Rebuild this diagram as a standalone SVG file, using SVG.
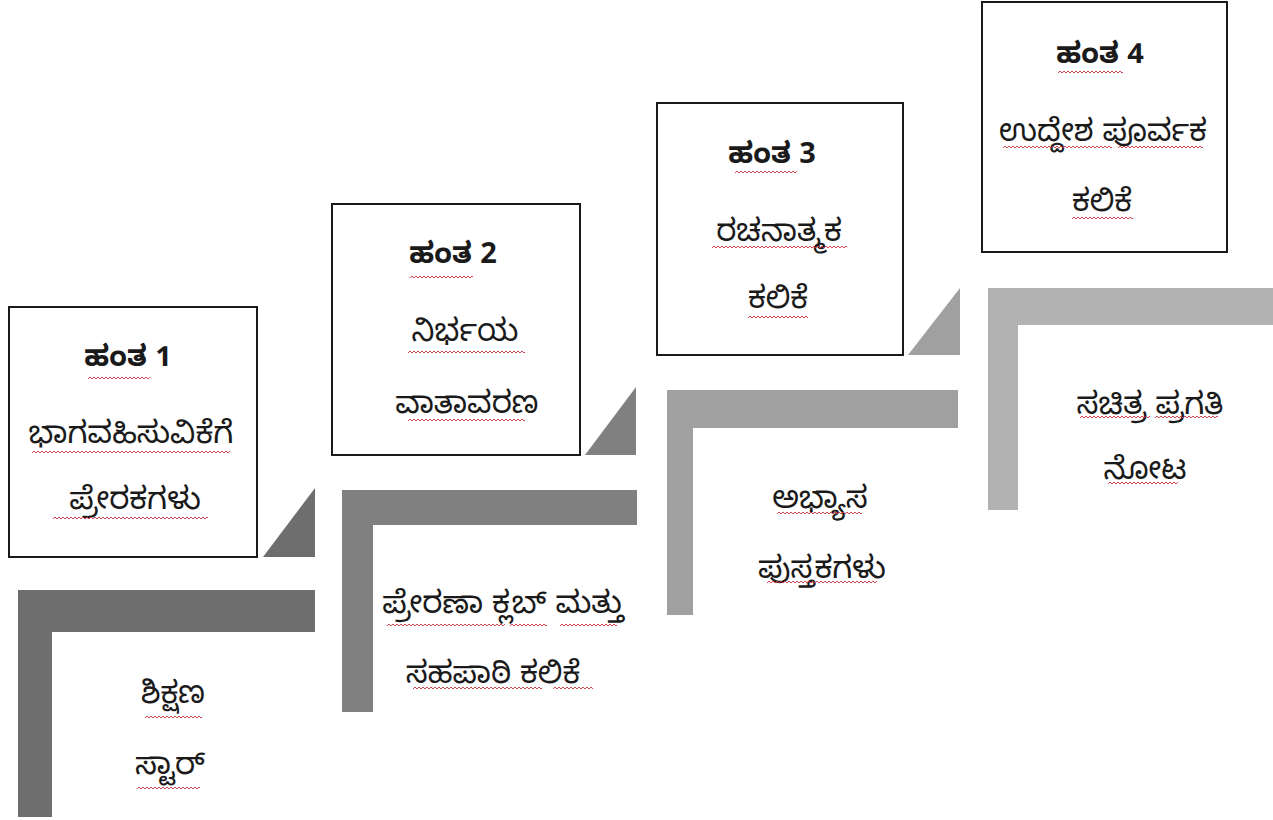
<svg xmlns="http://www.w3.org/2000/svg" width="1273" height="820" viewBox="0 0 1273 820">
<defs>
<pattern id="sq" width="4" height="4" patternUnits="userSpaceOnUse">
<path d="M0,3 L2,1 L4,3" fill="none" stroke="#c8323c" stroke-width="0.9"/>
</pattern>
<style>
.box{fill:#fff;stroke:#1a1a1a;stroke-width:2}
.t{font-family:"Noto Sans Kannada","Noto Sans","Lohit Kannada","Liberation Sans",sans-serif;font-size:31px;fill:#1a1a1a;text-anchor:middle}
.b{font-weight:bold;font-size:29px}
.sq{fill:url(#sq)}
.s1{fill:#6e6e6e}.s2{fill:#808080}.s3{fill:#a0a0a0}.s4{fill:#b2b2b2}
</style>
</defs>
<rect width="1273" height="820" fill="#fff"/>

<g id="connectors">
<polygon class="s1" points="263,557 315,488 315,557"/>
<polygon class="s2" points="585,455 636,387 636,455"/>
<polygon class="s3" points="908,355 960,288 960,355"/>
</g>

<g id="step1">
<path class="s1" d="M18,590 H315 V632 H52 V817 H18 Z"/>
<text class="t" x="173" y="703">ಶಿಕ್ಷಣ</text>
<text class="t" x="170" y="774">ಸ್ಟಾರ್</text>
<rect class="sq" transform="translate(145,715)" width="57" height="4"/>
<rect class="sq" transform="translate(137,786)" width="63" height="4"/>
</g>

<g id="step2">
<path class="s2" d="M342,490 H637 V525 H373 V712 H342 Z"/>
<text class="t" x="503" y="613">ಪ್ರೇರಣಾ ಕ್ಲಬ್ ಮತ್ತು</text>
<text class="t" x="493" y="683">ಸಹಪಾಠಿ ಕಲಿಕೆ</text>
<rect class="sq" transform="translate(387,623)" width="118" height="4"/>
<rect class="sq" transform="translate(510,623)" width="37" height="4"/>
<rect class="sq" transform="translate(560,623)" width="57" height="4"/>
<rect class="sq" transform="translate(413,686)" width="129" height="4"/>
<rect class="sq" transform="translate(553,686)" width="40" height="4"/>
</g>

<g id="step3">
<path class="s3" d="M667,390 H958 V428 H693 V615 H667 Z"/>
<text class="t" x="820" y="508">ಅಭ್ಯಾಸ</text>
<text class="t" x="822" y="578">ಪುಸ್ತಕಗಳು</text>
<rect class="sq" transform="translate(777,511)" width="85" height="4"/>
<rect class="sq" transform="translate(767,580)" width="110" height="4"/>
</g>

<g id="step4">
<path class="s4" d="M988,288 H1273 V325 H1018 V510 H988 Z"/>
<text class="t" x="1150" y="414">ಸಚಿತ್ರ ಪ್ರಗತಿ</text>
<text class="t" x="1145" y="479">ನೋಟ</text>
<rect class="sq" transform="translate(1080,415)" width="70" height="4"/>
<rect class="sq" transform="translate(1155,415)" width="63" height="4"/>
<rect class="sq" transform="translate(1108,481)" width="70" height="4"/>
</g>

<g id="stage1">
<rect class="box" x="9" y="307" width="248" height="250"/>
<text class="t b" x="128" y="366">ಹಂತ 1</text>
<text class="t" x="131" y="443">ಭಾಗವಹಿಸುವಿಕೆಗೆ</text>
<text class="t" x="135" y="509">ಪ್ರೇರಕಗಳು</text>
<rect class="sq" transform="translate(88,376)" width="62" height="4"/>
<rect class="sq" transform="translate(32,450)" width="198" height="4"/>
<rect class="sq" transform="translate(53,516)" width="155" height="4"/>
</g>

<g id="stage2">
<rect class="box" x="332" y="204" width="248" height="251"/>
<text class="t b" x="453" y="263">ಹಂತ 2</text>
<text class="t" x="465" y="341">ನಿರ್ಭಯ</text>
<text class="t" x="467" y="413">ವಾತಾವರಣ</text>
<rect class="sq" transform="translate(410,275)" width="63" height="4"/>
<rect class="sq" transform="translate(408,350)" width="117" height="4"/>
<rect class="sq" transform="translate(408,418)" width="117" height="4"/>
</g>

<g id="stage3">
<rect class="box" x="657" y="103" width="246" height="252"/>
<text class="t b" x="772" y="163">ಹಂತ 3</text>
<text class="t" x="779" y="241">ರಚನಾತ್ಮಕ</text>
<text class="t" x="778" y="308">ಕಲಿಕೆ</text>
<rect class="sq" transform="translate(735,170)" width="62" height="4"/>
<rect class="sq" transform="translate(712,245)" width="135" height="4"/>
<rect class="sq" transform="translate(748,315)" width="60" height="4"/>
</g>

<g id="stage4">
<rect class="box" x="982" y="2" width="245" height="250"/>
<text class="t b" x="1100" y="63">ಹಂತ 4</text>
<text class="t" x="1103" y="141">ಉದ್ದೇಶ ಪೂರ್ವಕ</text>
<text class="t" x="1102" y="211">ಕಲಿಕೆ</text>
<rect class="sq" transform="translate(1058,70)" width="65" height="4"/>
<rect class="sq" transform="translate(1003,145)" width="109" height="4"/>
<rect class="sq" transform="translate(1118,145)" width="85" height="4"/>
<rect class="sq" transform="translate(1072,216)" width="61" height="4"/>
</g>
</svg>
